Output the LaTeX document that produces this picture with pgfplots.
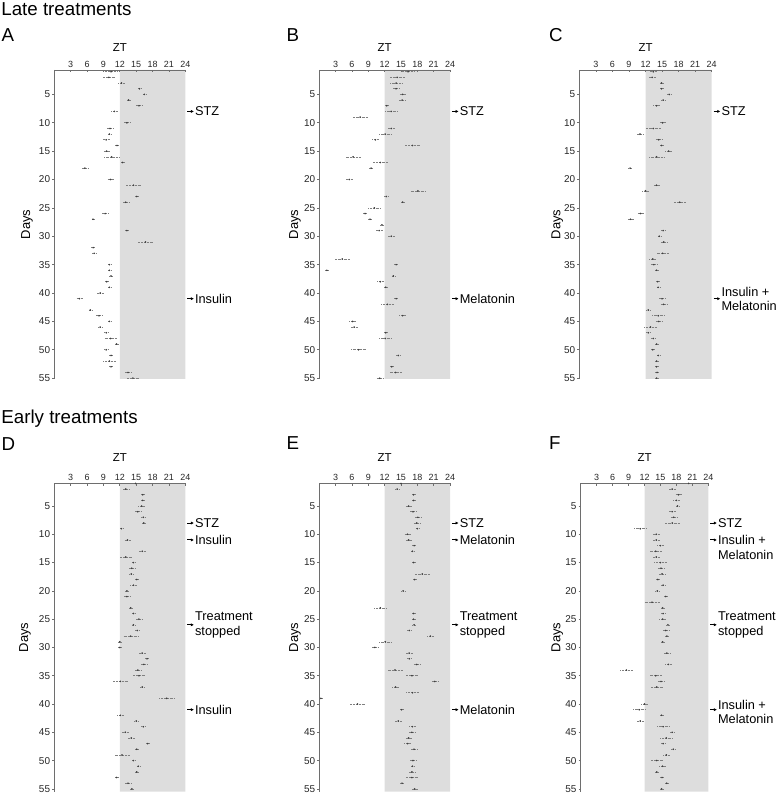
\documentclass[border=0pt]{standalone}
\usepackage{pgfplots}
\pgfplotsset{compat=1.18}
\usepackage{pgfplotstable}
\usetikzlibrary{arrows.meta}
\usepackage{fontspec}
\setmainfont{Liberation Sans}
\definecolor{shade}{RGB}{221,221,221}
\definecolor{axgray}{RGB}{110,110,110}

\pgfplotstableread{
d z e
1 10.4 1.07
2 10.0 1.07
3 12.3 0.55
4 15.6 0.46
5 16.5 0.30
6 13.6 0.37
7 15.5 0.52
8 11.0 0.55
10 13.3 0.60
11 10.2 0.60
12 10.1 0.37
13 9.5 0.52
14 11.5 0.46
15 9.6 0.55
16 10.5 1.40
17 12.5 0.43
18 5.6 0.60
20 10.3 0.55
21 14.5 1.30
23 15.1 0.46
24 13.1 0.64
26 9.3 0.70
27 7.1 0.28
29 13.3 0.49
31 16.7 1.30
32 7.1 0.49
33 7.3 0.40
35 10.1 0.46
36 10.1 0.46
37 10.4 0.43
38 9.6 0.46
39 10.1 0.28
40 8.4 0.67
41 4.6 0.52
43 6.6 0.37
44 8.2 0.58
45 10.1 0.34
46 8.4 0.49
47 9.5 0.46
48 10.3 1.20
49 11.4 0.46
50 9.5 0.49
51 10.4 0.49
52 10.1 1.15
53 10.4 0.30
54 13.5 0.55
55 14.4 1.10
}\dataA

\pgfplotstableread{
d z e
1 16.3 1.20
2 14.3 1.30
3 14.1 1.15
4 14.1 0.55
5 15.3 0.52
6 15.2 0.52
7 12.4 0.40
8 13.2 1.15
9 7.5 1.35
11 13.2 0.52
12 12.1 1.20
13 10.3 0.60
14 17.1 1.40
16 6.2 1.40
17 11.2 1.30
18 9.5 0.30
20 5.5 0.67
22 18.1 1.30
23 12.3 0.46
24 15.3 0.30
25 10.1 1.20
26 8.4 0.46
27 9.3 0.30
28 11.5 0.43
29 11.0 0.60
30 13.2 0.67
34 4.2 1.30
35 14.1 0.40
36 1.4 0.40
37 13.6 0.43
38 11.2 0.67
39 12.2 0.46
41 14.1 0.37
42 12.5 1.20
44 15.3 0.70
45 6.1 0.58
46 6.4 0.64
47 12.2 0.40
48 12.1 1.10
50 7.2 1.30
51 14.5 0.46
53 13.3 0.30
54 14.0 1.10
55 11.1 0.67
}\dataB

\pgfplotstableread{
d z e
1 13.4 0.60
2 13.2 0.67
3 14.9 0.49
4 14.9 0.46
5 16.3 0.40
6 15.2 0.49
7 14.0 0.60
10 15.1 0.52
11 13.4 1.30
12 11.0 0.60
13 14.4 0.67
14 14.9 0.43
15 16.2 0.67
16 14.0 1.30
18 9.2 0.30
21 14.0 0.55
22 12.0 0.60
24 18.2 1.15
26 11.1 0.55
27 9.3 0.52
29 15.2 0.43
30 14.5 0.28
31 15.3 0.67
33 15.1 1.20
34 13.3 0.60
35 13.5 0.52
36 14.0 0.49
38 14.2 0.34
39 14.3 0.30
41 15.0 0.67
42 15.3 0.67
43 12.5 0.43
44 14.3 1.20
45 14.4 0.55
46 12.9 1.25
47 12.5 0.46
48 13.4 0.46
49 14.0 0.46
50 13.3 0.40
51 14.3 0.30
52 14.0 0.46
53 14.0 0.46
54 14.1 0.40
55 14.0 0.46
}\dataC

\pgfplotstableread{
d z e
1 14.9 0.46
2 13.1 0.70
3 16.2 0.46
4 16.2 0.40
5 16.0 0.60
6 15.3 0.52
7 16.3 0.46
8 16.4 0.46
9 12.3 0.43
11 13.4 0.52
13 16.1 0.52
14 13.1 1.20
15 14.5 0.46
16 14.2 0.52
17 14.1 0.46
18 15.1 0.43
19 14.5 0.55
20 13.3 0.49
21 13.3 0.55
23 14.0 0.46
24 14.5 0.43
25 15.5 0.52
26 14.5 0.43
27 15.2 0.40
28 14.0 1.30
29 12.0 0.37
30 12.0 0.46
31 16.1 0.64
32 17.0 0.40
33 16.4 0.55
34 15.3 0.52
35 15.5 1.20
36 12.1 1.30
37 16.1 0.37
39 20.6 1.35
42 12.1 0.67
43 15.0 0.40
44 16.3 0.46
45 13.0 0.60
46 14.1 0.55
47 17.1 0.40
48 15.1 0.37
49 12.4 1.30
50 14.5 0.46
51 15.4 0.30
52 15.1 0.49
53 11.4 0.43
54 13.5 0.52
55 14.2 0.37
}\dataD

\pgfplotstableread{
d z e
1 15.0 0.52
2 14.3 0.40
3 17.3 0.49
4 17.3 0.46
5 16.4 0.52
6 17.2 0.52
7 18.1 0.76
8 17.9 0.52
9 18.0 0.46
10 16.2 0.52
11 16.4 0.52
12 17.4 0.46
13 17.1 0.46
15 17.3 0.49
17 18.9 1.40
18 17.5 0.37
20 15.4 0.46
23 11.2 1.10
24 17.3 0.49
25 17.3 0.46
26 17.4 0.46
27 16.5 0.46
28 20.4 0.67
29 12.1 1.15
30 10.2 0.67
31 16.5 0.58
32 16.5 0.46
33 17.9 0.60
34 13.9 1.40
35 17.0 1.15
36 21.2 0.55
37 14.0 0.67
38 17.1 1.25
39 0.3 0.46
40 7.0 1.30
41 15.1 0.43
43 14.5 0.67
44 17.1 0.58
45 17.0 0.52
46 16.4 0.55
47 16.2 0.58
48 17.4 0.64
50 17.2 0.67
51 17.1 0.46
52 17.0 0.52
53 17.0 1.10
54 15.2 0.46
55 17.5 0.52
}\dataE

\pgfplotstableread{
d z e
1 20.3 1.15
2 17.2 0.72
3 18.4 0.56
4 18.0 0.63
5 18.2 0.47
6 17.2 0.56
7 17.5 0.69
8 17.2 1.35
9 11.2 1.20
10 14.2 0.63
11 14.2 0.63
12 15.0 0.60
13 14.1 1.10
14 14.2 0.69
15 15.0 1.20
16 15.1 0.63
17 15.3 0.56
18 14.5 0.41
19 15.5 0.44
20 14.4 0.47
21 16.0 0.31
22 13.4 1.35
23 15.4 0.41
24 15.5 0.47
25 15.4 0.63
26 16.4 0.41
27 16.0 0.60
28 16.2 0.44
29 15.4 0.31
31 16.2 0.56
33 16.5 0.69
34 8.6 1.30
35 14.1 1.20
36 15.1 0.63
37 14.3 1.30
40 12.0 0.69
41 11.0 1.25
42 15.2 0.47
43 11.2 0.69
44 15.5 1.25
45 17.2 0.34
46 16.1 1.30
47 15.5 0.38
48 17.4 0.50
49 16.1 0.69
50 14.3 1.20
51 15.4 0.63
52 14.3 0.41
53 15.3 0.38
54 16.2 0.50
55 15.2 0.50
}\dataF

\pgfplotsset{
  panel/.style={
    scale only axis,
    xmin=0, xmax=24,
    y dir=reverse,
    axis x line*=top,
    axis y line*=left,
    axis line style={draw=axgray, line width=0.8bp},
    xtick={3,6,...,24},
    ytick={5,10,...,55},
    tick style={draw=axgray, line width=0.6bp},
    x tick label style={font=\fontsize{9}{10}\selectfont, text=black!85},
    y tick label style={font=\fontsize{10}{11}\selectfont, text=black!85},
    /pgf/number format/assume math mode=true,
    major tick length=2.2bp,
    xtick align=inside,
    ytick align=outside,
    xticklabel shift=-1bp,
    yticklabel shift=-1.5bp,
    axis on top,
    clip=false,
  },
  dots/.style={
    only marks, mark=*, mark size=0.6bp,
    mark options={draw=black!75, fill=black!75},
    error bars/.cd, x dir=both, x explicit,
    error mark=none,
    error bar style={densely dotted, line width=0.6bp, black!50},
  },
}

\newcommand{\ann}[3]{% day, yshift, text
  \draw[line width=1.0bp, -{Latex[length=3bp,width=3.2bp]}] ([xshift=1.8bp]axis cs:24,#1) -- ([xshift=8.6bp]axis cs:24,#1);
  \node[anchor=west, inner sep=0pt, align=left, font=\fontsize{12.8}{14.3}\selectfont] at ([xshift=9.6bp,yshift=#2]axis cs:24,#1) {#3};
}

\begin{document}
\begin{tikzpicture}[x=1bp, y=1bp]
\useasboundingbox (0bp,0bp) rectangle (778bp,794bp);

% titles
\node[anchor=base west, inner sep=0pt, font=\fontsize{18.8}{20}\selectfont] at (1.2bp,778.8bp) {Late treatments};
\node[anchor=base west, inner sep=0pt, font=\fontsize{18.8}{20}\selectfont] at (1.2bp,370.7bp) {Early treatments};
\foreach \L/\xx/\yy in {A/1.5/752.3, B/286.5/752.3, C/549/752.3, D/1.5/343.3, E/286.5/344, F/549/344}{
  \node[anchor=base west, inner sep=0pt, font=\fontsize{18.8}{20}\selectfont] at (\xx bp,\yy bp) {\L};
}
% ZT labels
\foreach \xx/\yy in {119.8/742.3, 384.6/742.3, 645.5/742.3, 119.8/332.3, 384.6/332.3, 644.5/332.3}{
  \node[anchor=base, inner sep=0pt, font=\fontsize{11.5}{12}\selectfont] at (\xx bp,\yy bp) {ZT};
}
% Days labels
\foreach \xx/\yy in {27/569.5, 295/569.5, 557.3/569.5, 25/156.5, 295/156.5, 557.3/156.5}{
  \node[rotate=90, inner sep=0pt, font=\fontsize{13}{14}\selectfont] at (\xx bp,\yy bp) {Days};
}

% ---------- A ----------
\begin{axis}[panel, at={(54.3bp,415bp)}, anchor=south west, width=131bp, height=309bp, ymin=0.7, ymax=55.15]
\addplot[fill=shade, draw=none, forget plot] coordinates {(12,0.7) (24,0.7) (24,55.15) (12,55.15) (12,0.7)};
\addplot[dots] table[x=z, y=d, x error=e] {\dataA};
\ann{8}{0bp}{STZ}
\ann{41}{0bp}{Insulin}
\end{axis}

% ---------- B ----------
\begin{axis}[panel, at={(319.3bp,415bp)}, anchor=south west, width=130.7bp, height=309bp, ymin=0.7, ymax=55.15]
\addplot[fill=shade, draw=none, forget plot] coordinates {(12,0.7) (24,0.7) (24,55.15) (12,55.15) (12,0.7)};
\addplot[dots] table[x=z, y=d, x error=e] {\dataB};
\ann{8}{0bp}{STZ}
\ann{41}{0bp}{Melatonin}
\end{axis}

% ---------- C ----------
\begin{axis}[panel, at={(579.3bp,415bp)}, anchor=south west, width=132.4bp, height=309bp, ymin=0.7, ymax=55.15]
\addplot[fill=shade, draw=none, forget plot] coordinates {(12,0.7) (24,0.7) (24,55.15) (12,55.15) (12,0.7)};
\addplot[dots] table[x=z, y=d, x error=e] {\dataC};
\ann{8}{0bp}{STZ}
\ann{41}{0bp}{Insulin +\\Melatonin}
\end{axis}

% ---------- D ----------
\begin{axis}[panel, at={(54.3bp,2.3bp)}, anchor=south west, width=131bp, height=308.4bp, ymin=0.98, ymax=55.5]
\addplot[fill=shade, draw=none, forget plot] coordinates {(12,0.98) (24,0.98) (24,55.5) (12,55.5) (12,0.98)};
\addplot[dots] table[x=z, y=d, x error=e] {\dataD};
\ann{8}{0bp}{STZ}
\ann{11}{0bp}{Insulin}
\ann{26}{0bp}{Treatment\\stopped}
\ann{41}{0bp}{Insulin}
\end{axis}

% ---------- E ----------
\begin{axis}[panel, at={(319.3bp,2.3bp)}, anchor=south west, width=130.7bp, height=308.4bp, ymin=0.98, ymax=55.5]
\addplot[fill=shade, draw=none, forget plot] coordinates {(12,0.98) (24,0.98) (24,55.5) (12,55.5) (12,0.98)};
\addplot[dots] table[x=z, y=d, x error=e] {\dataE};
\ann{8}{0bp}{STZ}
\ann{11}{0bp}{Melatonin}
\ann{26}{0bp}{Treatment\\stopped}
\ann{41}{0bp}{Melatonin}
\end{axis}

% ---------- F ----------
\begin{axis}[panel, at={(580.7bp,2.3bp)}, anchor=south west, width=127.6bp, height=308.4bp, ymin=0.98, ymax=55.5]
\addplot[fill=shade, draw=none, forget plot] coordinates {(12,0.98) (24,0.98) (24,55.5) (12,55.5) (12,0.98)};
\addplot[dots] table[x=z, y=d, x error=e] {\dataF};
\ann{8}{0bp}{STZ}
\ann{11}{-7.5bp}{Insulin +\\Melatonin}
\ann{26}{0bp}{Treatment\\stopped}
\ann{41}{-2.5bp}{Insulin +\\Melatonin}
\end{axis}
\end{tikzpicture}
\end{document}
